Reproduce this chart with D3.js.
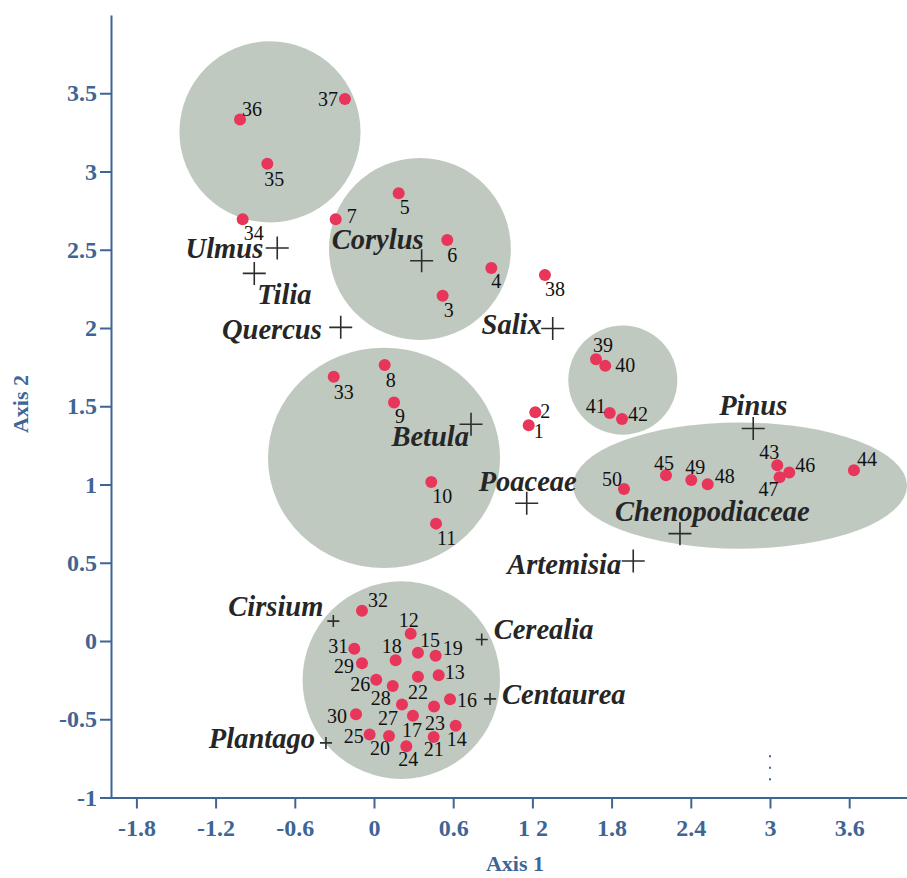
<!DOCTYPE html>
<html>
<head>
<meta charset="utf-8">
<script src="https://cdn.jsdelivr.net/npm/d3@7/dist/d3.min.js"></script>
<style>
  body { margin: 0; background: #fff; }
  svg { display: block; }
</style>
</head>
<body>
<svg id="chart"></svg>
<script>
// sample scores (points 1..50)
let sampleIds = d3.range(1, 51);
let sampleAxis1 = [1.172, 1.222, 0.520, 0.889, 0.187, 0.555, -0.290, 0.081, 0.152, 0.434,
  0.470, 0.278, 0.490, 0.619, 0.333, 0.576, 0.295, 0.164, 0.467, 0.114,
  0.452, 0.333, 0.455, 0.245, -0.033, 0.017, 0.212, 0.142, -0.091, -0.136,
  -0.149, -0.091, -0.305, -0.995, -0.808, -1.015, -0.220, 1.295, 1.682, 1.752,
  1.786, 1.879, 3.055, 3.636, 2.212, 3.146, 3.073, 2.528, 2.404, 1.894];
let sampleAxis2 = [1.379, 1.462, 2.206, 2.383, 2.861, 2.562, 2.695, 1.763, 1.524, 1.016,
  0.750, 0.046, -0.219, -0.541, -0.075, -0.372, -0.477, -0.123, -0.095, -0.607,
  -0.613, -0.229, -0.419, -0.673, -0.598, -0.248, -0.406, -0.287, -0.142, -0.468,
  -0.050, 0.193, 1.688, 2.695, 3.049, 3.332, 3.464, 2.338, 1.801, 1.758,
  1.457, 1.419, 1.123, 1.091, 1.059, 1.076, 1.046, 1.001, 1.029, 0.971];

// taxa scores (crosses)
let taxaNames = ["Ulmus", "Tilia", "Quercus", "Corylus", "Salix", "Betula", "Poaceae",
  "Pinus", "Chenopodiaceae", "Artemisia", "Cirsium", "Cerealia", "Centaurea", "Plantago"];
let taxaAxis1 = [-0.733, -0.907, -0.252, 0.361, 1.354, 0.735, 1.157,
  2.873, 2.318, 1.964, -0.308, 0.816, 0.879, -0.364];
let taxaAxis2 = [2.511, 2.349, 2.004, 2.430, 1.997, 1.385, 0.880,
  1.358, 0.686, 0.511, 0.127, 0.010, -0.370, -0.651];

// groups (shaded ellipses), centre and radii in axis units
let groupCx = [-0.788, 0.348, 0.076, 1.885, 2.773, 0.207];
let groupCy = [3.253, 2.505, 1.170, 1.667, 0.993, -0.250];
let groupRx = [0.686, 0.689, 0.879, 0.413, 1.265, 0.748];
let groupRy = [0.579, 0.582, 0.704, 0.349, 0.403, 0.631];

let xTicks = [-1.8, -1.2, -0.6, 0, 0.6, 1.2, 1.8, 2.4, 3, 3.6];
let xTickLabels = ["-1.8", "-1.2", "-0.6", "0", "0.6", "1 2", "1.8", "2.4", "3", "3.6"];
let yTicks = [-1, -0.5, 0, 0.5, 1, 1.5, 2, 2.5, 3, 3.5];
let yTickLabels = ["-1", "-0.5", "0", "0.5", "1", "1.5", "2", "2.5", "3", "3.5"];

// dotted mark at axis 1 = 3
let dotMark = { x: 3, from: -0.73, to: -0.95 };

// label placement (pixels, relative to the mark): [dx, dy, anchor]
let sampleLabelPos = {
  1: [5, 13, "s"], 2: [5, 6, "s"], 3: [1, 21, "s"], 4: [0, 20, "s"], 5: [1, 21, "s"],
  6: [0, 22, "s"], 7: [11, 4, "s"], 8: [1, 22, "s"], 9: [1, 21, "s"], 10: [1, 21, "s"],
  11: [1, 21, "s"], 12: [-12, -7, "s"], 13: [6, 4, "s"], 14: [-9, 20, "s"], 15: [2, -6, "s"],
  16: [7, 8, "s"], 17: [-11, 21, "s"], 18: [-14, -7, "s"], 19: [7, -1, "s"], 20: [-19, 19, "s"],
  21: [-10, 19, "s"], 22: [-10, 22, "s"], 23: [-9, 23, "s"], 24: [-8, 20, "s"], 25: [-6, 8, "e"],
  26: [-6, 11, "e"], 27: [-4, 20, "e"], 28: [-2, 19, "e"], 29: [-8, 10, "e"], 30: [-9, 9, "e"],
  31: [-6, 4, "e"], 32: [6, -4, "s"], 33: [0, 22, "s"], 34: [1, 21, "s"], 35: [-3, 22, "s"],
  36: [2, -4, "s"], 37: [-7, 7, "e"], 38: [0, 21, "s"], 39: [-3, -7, "s"], 40: [10, 6, "s"],
  41: [-4, 0, "e"], 42: [6, 2, "s"], 43: [-18, -6, "s"], 44: [3, -4, "s"], 45: [-12, -5, "s"],
  46: [6, -1, "s"], 47: [-21, 19, "s"], 48: [7, -1, "s"], 49: [-6, -6, "s"], 50: [-2, -3, "e"]
};
let taxaLabelPos = {
  Ulmus: [-14, 10, "e"], Tilia: [3, 31, "s"], Quercus: [-19, 12, "e"], Corylus: [2, -12, "e"],
  Salix: [-11, 6, "e"], Betula: [-2, 22, "e"], Poaceae: [1, -12, "m"], Pinus: [0, -13, "m"],
  Chenopodiaceae: [-65, -13, "s"], Artemisia: [-12, 13, "e"], Cirsium: [-10, -5, "e"],
  Cerealia: [12, 0, "s"], Centaurea: [12, 5, "s"], Plantago: [-11, 5, "e"]
};
let smallCross = ["Cirsium", "Cerealia", "Centaurea", "Plantago"];

let anchors = { s: "start", e: "end", m: "middle" };
let axisColor = "#3f6595";

function getConfig() {
  let width = 907;
  let height = 878;
  let svg = d3.select("#chart").attr("width", width).attr("height", height);
  return { width, height, svg };
}

function getScales() {
  let xScale = d3.scaleLinear().domain([-2, 4.038]).range([110, 907]);
  let yScale = d3.scaleLinear().domain([-1, 4]).range([797.5, 15]);
  return { xScale, yScale };
}

function drawGroups(scales, config) {
  let { xScale, yScale } = scales;
  config.svg.append("g").selectAll("ellipse")
    .data(groupCx.map((d, i) => i))
    .enter().append("ellipse")
    .attr("cx", i => xScale(groupCx[i]))
    .attr("cy", i => yScale(groupCy[i]))
    .attr("rx", i => xScale(groupCx[i] + groupRx[i]) - xScale(groupCx[i]))
    .attr("ry", i => yScale(groupCy[i] - groupRy[i]) - yScale(groupCy[i]))
    .attr("fill", "#c0c9c0");
}

function drawAxes(scales, config) {
  let { xScale, yScale } = scales;
  let { svg } = config;

  let axisX = d3.axisBottom(xScale)
    .tickValues(xTicks)
    .tickFormat((d, i) => xTickLabels[i])
    .tickSize(11).tickSizeOuter(0).tickPadding(10);
  let gX = svg.append("g").attr("transform", `translate(0,${yScale(-1)})`).call(axisX);

  let axisY = d3.axisLeft(yScale)
    .tickValues(yTicks)
    .tickFormat((d, i) => yTickLabels[i])
    .tickSize(11).tickSizeOuter(0).tickPadding(3);
  let gY = svg.append("g").attr("transform", `translate(${xScale(-2) + 1},0)`).call(axisY);

  [gX, gY].forEach(g => {
    g.selectAll("path, line").attr("stroke", axisColor).attr("stroke-width", 2);
    g.selectAll("text")
      .attr("fill", axisColor)
      .style("font-family", "'Liberation Serif', 'Times New Roman', serif")
      .style("font-weight", "bold")
      .style("font-size", "24px");
  });

  svg.append("text")
    .attr("x", 515).attr("y", 871)
    .attr("text-anchor", "middle")
    .attr("fill", axisColor)
    .style("font-family", "'Liberation Serif', serif")
    .style("font-weight", "bold").style("font-size", "22px")
    .text("Axis 1");

  svg.append("text")
    .attr("transform", "translate(28,404) rotate(-90)")
    .attr("text-anchor", "middle")
    .attr("fill", axisColor)
    .style("font-family", "'Liberation Serif', serif")
    .style("font-weight", "bold").style("font-size", "22px")
    .text("Axis 2");

  // dotted mark above tick 3
  svg.append("line")
    .attr("x1", xScale(dotMark.x)).attr("x2", xScale(dotMark.x))
    .attr("y1", yScale(dotMark.from)).attr("y2", yScale(dotMark.to))
    .attr("stroke", axisColor).attr("stroke-width", 2)
    .attr("stroke-dasharray", "2,9.5");
}

function drawTaxa(scales, config) {
  let { xScale, yScale } = scales;
  let g = config.svg.append("g");
  let idx = taxaNames.map((d, i) => i);

  let crosses = g.selectAll(".cross").data(idx).enter().append("path")
    .attr("d", i => {
      let cx = xScale(taxaAxis1[i]), cy = yScale(taxaAxis2[i]);
      let h = smallCross.includes(taxaNames[i]) ? 6 : 11.5;
      return `M${cx - h},${cy}H${cx + h}M${cx},${cy - h}V${cy + h}`;
    })
    .attr("stroke", "#2d2d2d").attr("stroke-width", 1.6).attr("fill", "none");

  g.selectAll(".taxon").data(idx).enter().append("text")
    .attr("x", i => xScale(taxaAxis1[i]) + taxaLabelPos[taxaNames[i]][0])
    .attr("y", i => yScale(taxaAxis2[i]) + taxaLabelPos[taxaNames[i]][1])
    .attr("text-anchor", i => anchors[taxaLabelPos[taxaNames[i]][2]])
    .attr("fill", "#262626")
    .style("font-family", "'Liberation Serif', 'Times New Roman', serif")
    .style("font-weight", "bold").style("font-style", "italic")
    .style("font-size", "28.5px")
    .text(i => taxaNames[i]);
  return crosses;
}

function drawSamples(scales, config) {
  let { xScale, yScale } = scales;
  let g = config.svg.append("g");
  let idx = sampleIds.map((d, i) => i);

  g.selectAll("circle").data(idx).enter().append("circle")
    .attr("cx", i => xScale(sampleAxis1[i]))
    .attr("cy", i => yScale(sampleAxis2[i]))
    .attr("r", 6)
    .attr("fill", "#e8355a");

  g.selectAll(".num").data(idx).enter().append("text")
    .attr("x", i => xScale(sampleAxis1[i]) + sampleLabelPos[sampleIds[i]][0])
    .attr("y", i => yScale(sampleAxis2[i]) + sampleLabelPos[sampleIds[i]][1])
    .attr("text-anchor", i => anchors[sampleLabelPos[sampleIds[i]][2]])
    .attr("fill", "#111")
    .style("font-family", "'Liberation Serif', 'Times New Roman', serif")
    .style("font-size", "20px")
    .text(i => sampleIds[i]);
}

let config = getConfig();
let scales = getScales();
drawGroups(scales, config);
drawAxes(scales, config);
drawTaxa(scales, config);
drawSamples(scales, config);
</script>
</body>
</html>
